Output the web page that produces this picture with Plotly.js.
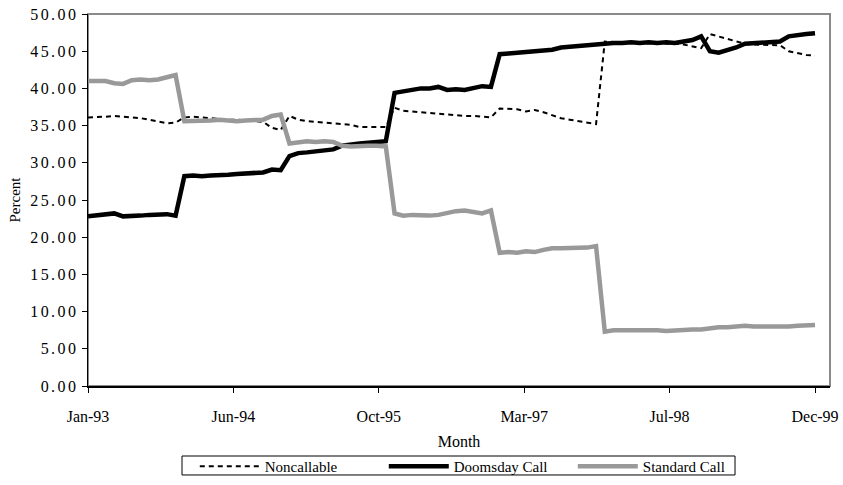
<!DOCTYPE html>
<html>
<head>
<meta charset="utf-8">
<script src="https://cdn.plot.ly/plotly-3.0.1.min.js"></script>
<style>
  html, body { margin: 0; padding: 0; background: #fff; }
  #chart { width: 843px; height: 485px; }
  .ytick text { letter-spacing: 2.4px; }
</style>
</head>
<body>
<div id="chart"></div>
<script>
// Monthly observations, Jan-93 .. Dec-99 (84 months)
const months = (function () {
  const names = ['Jan','Feb','Mar','Apr','May','Jun','Jul','Aug','Sep','Oct','Nov','Dec'];
  const out = [];
  for (let y = 93; y <= 99; y++) for (let m = 0; m < 12; m++) out.push(names[m] + '-' + y);
  return out;
})();

const tickLabels = ['Jan-93', 'Jun-94', 'Oct-95', 'Mar-97', 'Jul-98', 'Dec-99'];

const noncallable = [
  36.1, 36.1, 36.2, 36.3, 36.2, 36.1, 36.0, 35.8, 35.6, 35.3, 35.4, 36.1,
  36.2, 36.1, 36.0, 35.9, 35.8, 35.8, 35.7, 35.6, 35.5, 34.7, 34.4, 36.3,
  35.8, 35.6, 35.5, 35.4, 35.3, 35.3, 35.1, 34.8, 34.8, 34.9, 34.8, 37.4,
  37.0, 36.9, 36.8, 36.7, 36.6, 36.5, 36.4, 36.3, 36.3, 36.2, 36.1, 37.3,
  37.3, 37.2, 36.9, 37.1, 36.8, 36.4, 36.0, 35.8, 35.6, 35.4, 35.2, 46.3,
  46.2, 46.2, 46.1, 46.1, 46.1, 46.1, 46.1, 46.0, 45.9, 45.6, 45.4, 47.3,
  47.0, 46.7, 46.4, 46.0, 45.9, 45.9, 45.8, 45.8, 45.0, 44.7, 44.5, 44.4
];

const doomsdayCall = [
  22.8, 22.9, 23.0, 23.2, 22.8, 22.8, 22.9, 23.0, 23.0, 23.1, 22.9, 28.2,
  28.3, 28.2, 28.3, 28.3, 28.4, 28.5, 28.6, 28.6, 28.7, 29.1, 29.0, 30.9,
  31.3, 31.4, 31.5, 31.7, 31.8, 32.3, 32.5, 32.6, 32.7, 32.8, 32.9, 39.4,
  39.6, 39.8, 40.0, 40.0, 40.2, 39.8, 39.9, 39.8, 40.0, 40.3, 40.2, 44.6,
  44.7, 44.8, 44.9, 45.0, 45.0, 45.2, 45.5, 45.6, 45.8, 45.9, 46.0, 46.0,
  46.1, 46.1, 46.2, 46.1, 46.2, 46.1, 46.2, 46.1, 46.3, 46.5, 47.0, 45.0,
  44.8, 45.1, 45.5, 46.0, 46.1, 46.2, 46.3, 46.3, 47.0, 47.2, 47.3, 47.4
];

const standardCall = [
  41.0, 41.0, 41.0, 40.7, 40.6, 41.1, 41.2, 41.1, 41.2, 41.5, 41.8, 35.6,
  35.6, 35.7, 35.7, 35.8, 35.7, 35.6, 35.7, 35.8, 35.8, 36.3, 36.5, 32.6,
  32.8, 32.9, 32.8, 32.9, 32.8, 32.3, 32.2, 32.3, 32.3, 32.3, 32.2, 23.2,
  22.9, 23.0, 22.9, 22.9, 23.0, 23.3, 23.5, 23.6, 23.4, 23.2, 23.6, 17.9,
  18.0, 17.9, 18.1, 18.0, 18.3, 18.5, 18.5, 18.5, 18.6, 18.6, 18.8, 7.3,
  7.5, 7.5, 7.5, 7.6, 7.5, 7.5, 7.4, 7.5, 7.5, 7.6, 7.6, 7.8,
  7.9, 7.9, 8.0, 8.1, 8.0, 8.0, 7.9, 8.0, 8.0, 8.1, 8.2, 8.2
];

const xIdx = months.map((_, i) => i);
const last = months.length - 1;
const tickPos = tickLabels.map((_, k) => k * last / (tickLabels.length - 1));

const FONT = '"Liberation Serif", "Times New Roman", Times, serif';

const traces = [
  {
    x: xIdx, y: noncallable, text: months, name: 'Noncallable',
    type: 'scatter', mode: 'lines',
    line: { color: '#000000', width: 2, dash: '5px,4px' },
    hovertemplate: '%{text}: %{y:.2f}<extra>Noncallable</extra>'
  },
  {
    x: xIdx, y: doomsdayCall, text: months, name: 'Doomsday Call',
    type: 'scatter', mode: 'lines',
    line: { color: '#000000', width: 4.5 },
    hovertemplate: '%{text}: %{y:.2f}<extra>Doomsday Call</extra>'
  },
  {
    x: xIdx, y: standardCall, text: months, name: 'Standard Call',
    type: 'scatter', mode: 'lines',
    line: { color: '#999999', width: 4.5 },
    hovertemplate: '%{text}: %{y:.2f}<extra>Standard Call</extra>'
  }
];

const layout = {
  width: 843, height: 485,
  margin: { l: 88, r: 13, t: 14, b: 99, pad: 0, autoexpand: false },
  paper_bgcolor: '#ffffff', plot_bgcolor: '#ffffff',
  font: { family: FONT, size: 16, color: '#000000' },
  showlegend: true,
  xaxis: {
    range: [0, last + 1.71],
    tickmode: 'array', tickvals: tickPos, ticktext: tickLabels,
    ticks: 'outside', ticklen: 5, tickwidth: 1, tickcolor: '#000',
    ticklabelstandoff: 10,
    showgrid: false, zeroline: false,
    showline: true, linecolor: '#000', linewidth: 1.5,
    tickfont: { family: FONT, size: 16, color: '#000' },
    title: { text: 'Month', font: { family: FONT, size: 16, color: '#000' }, standoff: 12 },
    automargin: false
  },
  yaxis: {
    range: [0, 50], dtick: 5, tick0: 0, tickformat: '.2f',
    ticks: 'outside', ticklen: 5, tickwidth: 1, tickcolor: '#000',
    showgrid: false, zeroline: false,
    showline: true, linecolor: '#000', linewidth: 1.5,
    tickfont: { family: FONT, size: 16, color: '#000' },
    title: { text: 'Percent', font: { family: FONT, size: 15, color: '#000' }, standoff: 6 },
    automargin: false
  },
  legend: {
    orientation: 'h', x: 0.526, xanchor: 'center', y: -0.172, yanchor: 'top',
    borderwidth: 0, bgcolor: 'rgba(0,0,0,0)',
    font: { family: FONT, size: 15, color: '#000' },
    itemwidth: 60, entrywidth: 114, tracegroupgap: 0
  },
  shapes: [
    {
      type: 'rect', xref: 'paper', yref: 'paper', x0: 0, x1: 1, y0: 0, y1: 1,
      line: { color: '#8a8a8a', width: 2 }, layer: 'below'
    },
    {
      // legend frame
      type: 'rect', xref: 'paper', yref: 'paper',
      x0: 0.1267, x1: 0.872, y0: -0.2392, y1: -0.1882,
      line: { color: '#000', width: 1 }, fillcolor: 'rgba(0,0,0,0)', layer: 'above'
    }
  ]
};

Plotly.newPlot('chart', traces, layout, { displayModeBar: false, staticPlot: true });
</script>
</body>
</html>
